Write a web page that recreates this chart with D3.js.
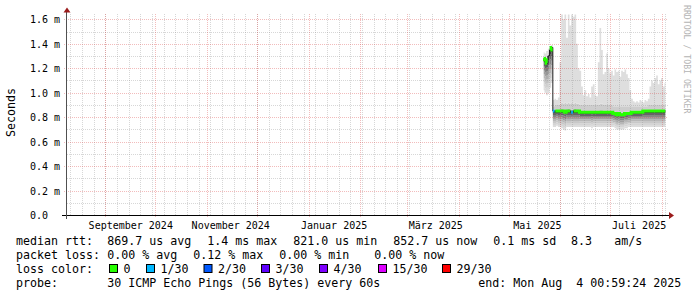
<!DOCTYPE html>
<html>
<head>
<meta charset="utf-8">
<script src="https://cdn.jsdelivr.net/npm/d3@7/dist/d3.min.js"></script>
<style>
  html, body { margin: 0; padding: 0; background: #fff; }
  svg { display: block; font-family: "DejaVu Sans Mono", monospace; }
</style>
</head>
<body>
<svg id="chart" width="697" height="297"></svg>
<script>
// time window: last 360 days ending at the probe end time
const startTime = new Date(Date.UTC(2024, 7, 9, 0, 59, 24));
const endTime = new Date(Date.UTC(2025, 7, 4, 0, 59, 24));
const firstSample = new Date(Date.UTC(2025, 4, 22, 0, 59, 24)); // one sample per day

// daily smoke values in ms (median, smallest ping, upper bulk, largest ping)
const medianMs = [1.28, 1.27, 1.24, 1.30, 1.35, 1.37, 0.85, 0.85, 0.85, 0.85,
  0.85, 0.85, 0.85, 0.84, 0.85, 0.85, 0.85, 0.84, 0.85, 0.85,
  0.85, 0.85, 0.84, 0.84, 0.84, 0.84, 0.84, 0.84, 0.84, 0.84,
  0.84, 0.84, 0.84, 0.84, 0.84, 0.84, 0.84, 0.84, 0.84, 0.84,
  0.84, 0.84, 0.83, 0.83, 0.82, 0.83, 0.82, 0.82, 0.82, 0.83,
  0.83, 0.83, 0.83, 0.84, 0.84, 0.84, 0.84, 0.84, 0.84, 0.84,
  0.85, 0.85, 0.85, 0.85, 0.85, 0.85, 0.85, 0.85, 0.85, 0.85,
  0.85, 0.85, 0.85, 0.85];
const minMs = [1.02, 1.00, 0.98, 1.00, 1.04, 1.08, 0.72, 0.72, 0.73, 0.72,
  0.72, 0.71, 0.70, 0.69, 0.72, 0.72, 0.72, 0.72, 0.72, 0.72,
  0.72, 0.72, 0.72, 0.72, 0.72, 0.72, 0.72, 0.72, 0.72, 0.71,
  0.72, 0.72, 0.72, 0.72, 0.72, 0.72, 0.72, 0.72, 0.72, 0.72,
  0.72, 0.72, 0.72, 0.71, 0.70, 0.70, 0.70, 0.70, 0.70, 0.71,
  0.71, 0.72, 0.72, 0.72, 0.72, 0.72, 0.72, 0.72, 0.72, 0.72,
  0.72, 0.72, 0.72, 0.72, 0.72, 0.72, 0.72, 0.72, 0.72, 0.72,
  0.72, 0.72, 0.72, 0.72];
const upperMs = [1.30, 1.29, 1.28, 1.33, 1.36, 1.38, 0.89, 0.90, 0.90, 0.90,
  0.91, 0.92, 0.91, 0.92, 0.91, 0.92, 0.91, 0.92, 0.91, 0.92,
  0.91, 0.91, 0.90, 0.90, 0.90, 0.90, 0.90, 0.90, 0.90, 0.90,
  0.90, 0.90, 0.90, 0.90, 0.91, 0.91, 0.90, 0.90, 0.90, 0.90,
  0.90, 0.90, 0.89, 0.89, 0.89, 0.89, 0.89, 0.89, 0.89, 0.89,
  0.89, 0.89, 0.89, 0.89, 0.89, 0.89, 0.89, 0.89, 0.89, 0.89,
  0.89, 0.89, 0.89, 0.90, 0.90, 0.90, 0.90, 0.90, 0.90, 0.90,
  0.90, 0.90, 0.90, 0.90];
const maxMs = [1.33, 1.32, 1.34, 1.36, 1.38, 1.39, 0.94, 0.95, 0.94, 0.96,
  1.25, 1.64, 1.60, 1.64, 1.45, 1.64, 1.55, 1.64, 1.62, 1.64,
  1.40, 1.20, 1.18, 1.05, 0.98, 1.02, 0.97, 0.99, 0.96, 1.05,
  1.07, 0.98, 0.97, 1.25, 1.53, 1.35, 1.15, 1.17, 1.32, 1.20,
  1.16, 1.18, 1.14, 1.19, 1.17, 1.18, 1.13, 1.18, 1.17, 1.19,
  1.15, 1.12, 1.02, 0.95, 0.93, 0.92, 0.93, 0.92, 0.94, 0.93,
  0.92, 0.94, 0.93, 0.95, 1.05, 1.10, 1.08, 1.12, 1.14, 1.07,
  1.10, 1.12, 1.05, 1.08];
// lost pings out of 30 for each sample
const lostPings = [0, 0, 0, 1, 0, 0, 1, 0, 0, 0,
  0, 0, 0, 0, 0, 0, 0, 1, 0, 0,
  0, 0, 0, 0, 0, 0, 0, 0, 0, 0,
  0, 0, 0, 0, 0, 0, 0, 0, 0, 0,
  0, 0, 0, 0, 0, 0, 0, 0, 0, 0,
  0, 0, 0, 0, 0, 0, 0, 0, 0, 0,
  0, 0, 0, 0, 0, 0, 0, 0, 0, 0,
  0, 0, 0, 0];

// axes
const yTicks = [0, 0.2, 0.4, 0.6, 0.8, 1.0, 1.2, 1.4, 1.6];
const yTickLabels = ["0.0", "0.2 m", "0.4 m", "0.6 m", "0.8 m", "1.0 m", "1.2 m", "1.4 m", "1.6 m"];
const yMinorTicks = [0.1, 0.3, 0.5, 0.7, 0.9, 1.1, 1.3, 1.5];
const xLabelDates = [Date.UTC(2024, 8, 16), Date.UTC(2024, 10, 15), Date.UTC(2025, 0, 16),
  Date.UTC(2025, 2, 18), Date.UTC(2025, 4, 18), Date.UTC(2025, 6, 18)].map(d => new Date(d));
const xLabels = ["September 2024", "November 2024", "Januar 2025", "März 2025", "Mai 2025", "Juli 2025"];

// legend
const lossLabels = ["0", "1/30", "2/30", "3/30", "4/30", "15/30", "29/30"];
const lossThresholds = [0, 1, 2, 3, 4, 15, 29];
const lossColors = ["#26ff00", "#00b8ff", "#0059ff", "#5e00ff", "#7e00ff", "#dd00ff", "#ff0000"];
const rttTexts = ["median rtt:", "869.7 us avg", "1.4 ms max", "821.0 us min", "852.7 us now", "0.1 ms sd", "8.3", "am/s"];
const lossTexts = ["packet loss:", "0.00 % avg", "0.12 % max", "0.00 % min", "0.00 % now"];
const probeTexts = ["probe:", "30 ICMP Echo Pings (56 Bytes) every 60s", "end: Mon Aug  4 00:59:24 2025"];

// layout
const rttX = [16, 107.3, 207.3, 293.3, 393.3, 493.3, 571, 614.3];
const lossX = [16, 107.3, 193.3, 279.3, 374.3];
const probeX = [16, 107.3, 478.3];
const boxX = [109, 146, 203.5, 261, 319, 378, 442];
const rowY = [245.3, 259.2, 273.1, 287];

const svg = d3.select('#chart');
const x = d3.scaleUtc().domain([startTime, endTime]).range([67, 667]);
const y = d3.scaleLinear().domain([0, 1.6435]).range([215, 14]);

const samples = medianMs.map((m, i) => ({
  t: d3.utcDay.offset(firstSample, i),
  med: m, min: minMs[i], up: upperMs[i], max: maxMs[i],
  cls: d3.bisectRight(lossThresholds, lostPings[i]) - 1
}));

// smoke bands
const smoke = svg.append('g');
function band(lo, hi, fill) {
  smoke.append('path')
    .datum(samples)
    .attr('fill', fill)
    .attr('d', d3.area().curve(d3.curveStep)
      .x(d => x(d.t)).y0(d => y(lo(d))).y1(d => y(hi(d))));
}
const lowSteps = 8;
for (let k = 0; k < lowSteps; k++) {
  const f = (k + 1) / lowSteps;
  const g = Math.round(0xde - (0xde - 0x40) * f * f);
  band(d => d.min + (d.med - d.min) * k / lowSteps,
       d => d.min + (d.med - d.min) * (k + 1) / lowSteps,
       d3.rgb(g, g, g));
}
band(d => d.med, d => d.med + (d.up - d.med) * 0.25, '#a8a8a8');
band(d => d.med + (d.up - d.med) * 0.25, d => d.up, '#cdcdcd');
band(d => d.up, d => d.max, '#dedede');

// grid
const grid = svg.append('g').attr('stroke-dasharray', '1,1').attr('stroke-width', 1);
const minorColor = 'rgba(143,143,143,0.36)';
const majorColor = 'rgba(222,80,80,0.38)';
grid.selectAll('.vmin').data(d3.utcSunday.range(startTime, endTime)).join('line')
  .attr('x1', d => Math.round(x(d)) + 0.5).attr('x2', d => Math.round(x(d)) + 0.5)
  .attr('y1', 14).attr('y2', 215).attr('stroke', minorColor);
grid.selectAll('.hmin').data(yMinorTicks).join('line')
  .attr('x1', 67).attr('x2', 668)
  .attr('y1', d => Math.round(y(d)) + 0.5).attr('y2', d => Math.round(y(d)) + 0.5)
  .attr('stroke', minorColor);
grid.selectAll('.vmaj').data(d3.utcMonth.range(startTime, endTime)).join('line')
  .attr('x1', d => Math.round(x(d)) + 0.5).attr('x2', d => Math.round(x(d)) + 0.5)
  .attr('y1', 14).attr('y2', 218).attr('stroke', majorColor);
grid.selectAll('.hmaj').data(yTicks.slice(1)).join('line')
  .attr('x1', 64).attr('x2', 668)
  .attr('y1', d => Math.round(y(d)) + 0.5).attr('y2', d => Math.round(y(d)) + 0.5)
  .attr('stroke', majorColor);

// median line and loss coloured overlay
svg.append('path').datum(samples)
  .attr('fill', 'none').attr('stroke', '#202020').attr('stroke-width', 1)
  .attr('d', d3.line().curve(d3.curveStep).x(d => x(d.t)).y(d => y(d.med)));
svg.append('path').datum(samples)
  .attr('fill', 'none').attr('stroke', lossColors[0]).attr('stroke-width', 3)
  .attr('d', d3.line().curve(d3.curveStep).defined(d => d.cls === 0)
    .x(d => x(d.t)).y(d => y(d.med)));
svg.selectAll('.lossmark').data(samples.filter(d => d.cls > 0 && d.med < 1)).join('line')
  .attr('x1', d => x(d3.utcHour.offset(d.t, -12))).attr('x2', d => x(d3.utcHour.offset(d.t, 12)))
  .attr('y1', d => y(d.med)).attr('y2', d => y(d.med))
  .attr('stroke', d => lossColors[d.cls]).attr('stroke-width', 3);

// axes lines and arrows
svg.append('line').attr('x1', 62).attr('x2', 670).attr('y1', 215.5).attr('y2', 215.5)
  .attr('stroke', '#000');
svg.append('line').attr('x1', 66.5).attr('x2', 66.5).attr('y1', 219).attr('y2', 12)
  .attr('stroke', '#505050');
svg.append('path').attr('d', 'M63.5,12.5L70.5,12.5L67,7.5Z').attr('fill', '#9b1c1c');
svg.append('path').attr('d', 'M669,212L669,219L674,215.5Z').attr('fill', '#9b1c1c');

// y axis labels
const yAxis = svg.append('g').attr('transform', 'translate(67,0)')
  .call(d3.axisLeft(y).tickValues(yTicks).tickFormat((d, i) => yTickLabels[i]).tickSize(0));
yAxis.select('.domain').remove();
yAxis.selectAll('text')
  .attr('x', -37).attr('dy', '0.36em')
  .attr('text-anchor', 'start')
  .attr('font-family', '"DejaVu Sans Mono", monospace')
  .attr('font-size', 10).attr('fill', '#000');

// x axis labels
const xAxis = svg.append('g').attr('transform', 'translate(0,215)')
  .call(d3.axisBottom(x).tickValues(xLabelDates).tickFormat((d, i) => xLabels[i]).tickSize(0));
xAxis.select('.domain').remove();
xAxis.selectAll('text')
  .attr('y', 14).attr('dy', 0)
  .attr('font-family', '"DejaVu Sans Mono", monospace')
  .attr('font-size', 10).attr('fill', '#000');

// titles
svg.append('text').attr('transform', 'translate(15,112.5) rotate(-90)')
  .attr('text-anchor', 'middle').attr('font-size', 11.63).attr('fill', '#000')
  .text('Seconds');
svg.append('text').attr('transform', 'translate(683.5,5) rotate(90)')
  .attr('font-size', 8.2).attr('fill', '#b4b4b4')
  .text('RRDTOOL / TOBI OETIKER');

// legend
const legend = svg.append('g').attr('font-size', 11.63).attr('fill', '#000');
function legendRow(texts, xs, yy) {
  legend.selectAll(null).data(texts).join('text')
    .attr('xml:space', 'preserve')
    .attr('x', (d, i) => xs[i]).attr('y', yy).text(d => d);
}
legendRow(rttTexts, rttX, rowY[0]);
legendRow(lossTexts, lossX, rowY[1]);
legendRow(probeTexts, probeX, rowY[3]);
legend.append('text').attr('x', 16).attr('y', rowY[2]).text('loss color:');
legend.selectAll('.box').data(lossColors).join('rect')
  .attr('x', (d, i) => boxX[i] + 0.5).attr('y', 264.5)
  .attr('width', 8).attr('height', 8)
  .attr('fill', d => d).attr('stroke', '#000').attr('stroke-width', 1);
legend.selectAll('.ll').data(lossLabels).join('text')
  .attr('x', (d, i) => boxX[i] + 14.5).attr('y', rowY[2]).text(d => d);
</script>
</body>
</html>
